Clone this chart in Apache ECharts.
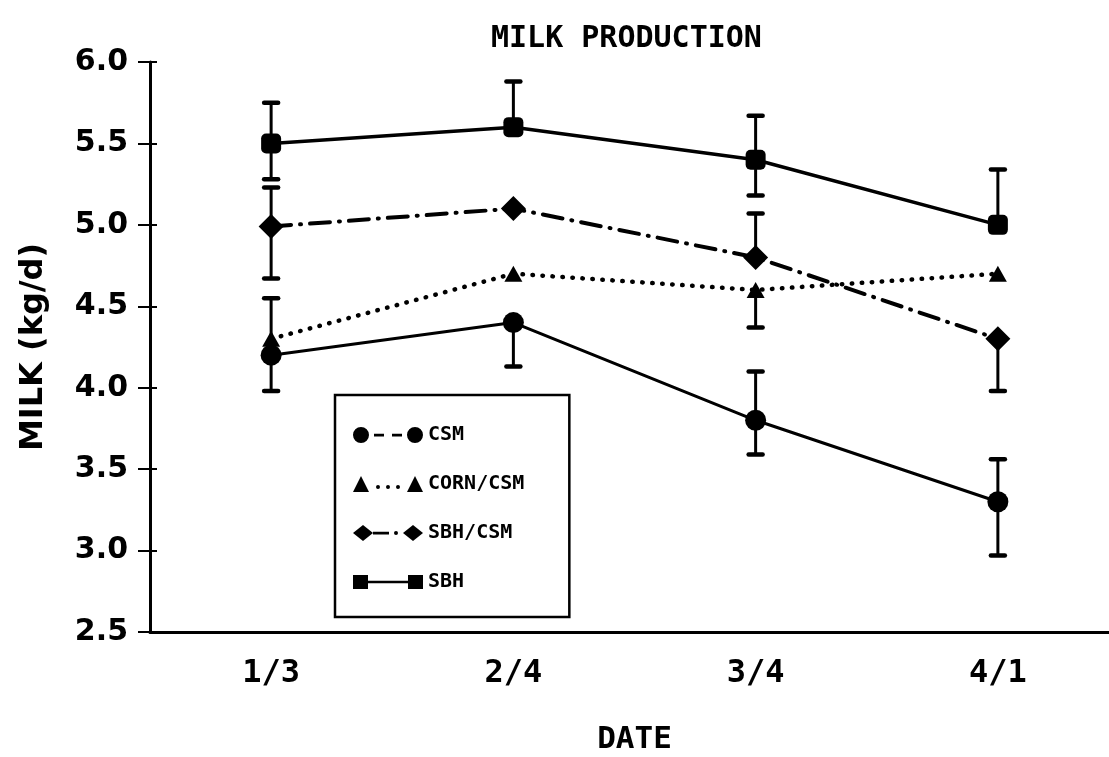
<!DOCTYPE html>
<html>
<head>
<meta charset="utf-8">
<script src="https://cdn.jsdelivr.net/npm/echarts@6/dist/echarts.min.js"></script>
<style>
html,body{margin:0;padding:0;background:#fff;}
#chart{width:1109px;height:757px;}
</style>
</head>
<body>
<div id="chart"></div>
<script>
// ---- data ----
const categories = ['1/3', '2/4', '3/4', '4/1'];
const yTicks = [2.5, 3.0, 3.5, 4.0, 4.5, 5.0, 5.5, 6.0];

const csm      = [4.2, 4.4, 3.8, 3.3];
const csmHigh  = [null, null, 4.10, 3.56];
const csmLow   = [3.98, 4.13, 3.59, 2.97];

const corn     = [4.3, 4.7, 4.6, 4.7];
const cornHigh = [4.55, null, null, null];
const cornLow  = [null, null, 4.37, null];

const sbhCsm     = [4.99, 5.1, 4.8, 4.3];
const sbhCsmHigh = [5.23, null, 5.07, null];
const sbhCsmLow  = [4.67, null, null, 3.98];

const sbh     = [5.5, 5.6, 5.4, 5.0];
const sbhHigh = [5.75, 5.88, 5.67, 5.34];
const sbhLow  = [5.28, null, 5.18, null];

// ---- legend icons (drawn in a 70 x 16 box) ----
function circ(cx, cy, r) {
  return 'M' + (cx - r) + ',' + cy + ' A' + r + ',' + r + ' 0 1,1 ' + (cx + r) + ',' + cy +
         ' A' + r + ',' + r + ' 0 1,1 ' + (cx - r) + ',' + cy + ' Z ';
}
function rect(x1, y1, x2, y2) {
  return 'M' + x1 + ',' + y1 + ' L' + x2 + ',' + y1 + ' L' + x2 + ',' + y2 + ' L' + x1 + ',' + y2 + ' Z ';
}
const iconCSM = 'path://' + circ(8, 8, 8) + circ(62, 8, 8) + rect(21, 6.8, 31, 9.4) + rect(39, 6.8, 49, 9.4);
const iconCORN = 'path://M0,16 L8,0 L16,16 Z M54,16 L62,0 L70,16 Z ' + circ(25, 11, 2) + circ(35, 11, 2) + circ(45, 11, 2);
const iconSBHCSM = 'path://M0,8 L10,0 L20,8 L10,16 Z M50,8 L60,0 L70,8 L60,16 Z ' + rect(20, 6.7, 36, 9.5) + circ(43, 8, 2);
const iconSBH = 'path://' + rect(0, 1, 15, 15) + rect(55, 1, 70, 15) + rect(15, 6.8, 55, 9.2);

const BLACK = '#000';
const MONO = 'DejaVu Sans Mono';

function errData(vals, lows, highs) {
  return categories.map(function (c, i) {
    return [i, vals[i], lows[i] == null ? NaN : lows[i], highs[i] == null ? NaN : highs[i]];
  });
}

function renderErr(params, api) {
  const x = api.value(0), y = api.value(1), lo = api.value(2), hi = api.value(3);
  const p = api.coord([x, y]);
  const cap = 7;
  const children = [];
  [hi, lo].forEach(function (v) {
    if (v == null || isNaN(v)) return;
    const q = api.coord([x, v]);
    children.push({ type: 'line', shape: { x1: p[0], y1: p[1], x2: q[0], y2: q[1] },
                    style: { stroke: BLACK, lineWidth: 3 } });
    children.push({ type: 'line', shape: { x1: q[0] - cap, y1: q[1], x2: q[0] + cap, y2: q[1] },
                    style: { stroke: BLACK, lineWidth: 4.5, lineCap: 'round' } });
  });
  return { type: 'group', children: children };
}

function errSeries(name, vals, lows, highs) {
  return {
    type: 'custom', name: name + ' err', z: 1, silent: true,
    renderItem: renderErr, data: errData(vals, lows, highs),
    encode: { x: 0, y: 1 }
  };
}

const chart = echarts.init(document.getElementById('chart'), null, { renderer: 'canvas' });

const option = {
  backgroundColor: '#fff',
  animation: false,
  title: {
    text: 'MILK PRODUCTION',
    left: 486, top: 19,
    textStyle: { fontFamily: MONO, fontWeight: 'bold', fontSize: 30, color: BLACK }
  },
  legend: {
    orient: 'vertical',
    left: 335, top: 395,
    padding: [30, 45, 25, 18],
    itemWidth: 70, itemHeight: 16, itemGap: 29,
    borderColor: BLACK, borderWidth: 2.5,
    selectedMode: false,
    textStyle: { fontFamily: MONO, fontWeight: 'bold', fontSize: 20, lineHeight: 16, color: BLACK },
    data: [
      { name: 'CSM', icon: iconCSM },
      { name: 'CORN/CSM', icon: iconCORN },
      { name: 'SBH/CSM', icon: iconSBHCSM },
      { name: 'SBH', icon: iconSBH }
    ]
  },
  grid: { left: 150, top: 62, width: 969, height: 570, outerBoundsMode: 'none', containLabel: false },
  xAxis: [{
    type: 'category',
    data: categories,
    boundaryGap: true,
    name: 'DATE',
    nameLocation: 'middle',
    nameGap: 92,
    nameMoveOverlap: false,
    nameTextStyle: { fontFamily: MONO, fontWeight: 'bold', fontSize: 31, color: BLACK },
    axisLine: { lineStyle: { color: BLACK, width: 3 } },
    axisTick: { alignWithLabel: true, length: 8, lineStyle: { color: BLACK, width: 2 } },
    axisLabel: { margin: 26, fontFamily: MONO, fontWeight: 'bold', fontSize: 32, color: BLACK },
    splitLine: { show: false }
  }, {
    type: 'category',
    data: categories,
    boundaryGap: true,
    position: 'bottom',
    axisLine: { show: false },
    axisTick: { alignWithLabel: true, inside: true, length: 10, lineStyle: { color: BLACK, width: 2 } },
    axisLabel: { show: false },
    splitLine: { show: false }
  }],
  yAxis: [{
    type: 'value',
    min: 2.5, max: 6.0, interval: 0.5,
    name: 'MILK (kg/d)',
    nameLocation: 'middle',
    nameGap: 100,
    nameMoveOverlap: false,
    nameRotate: 90,
    nameTextStyle: { fontFamily: 'DejaVu Sans', fontWeight: 'bold', fontSize: 32, color: BLACK },
    axisLine: { show: true, lineStyle: { color: BLACK, width: 3 } },
    axisTick: { show: true, length: 12, lineStyle: { color: BLACK, width: 2 } },
    axisLabel: {
      margin: 22, fontFamily: 'DejaVu Sans', fontWeight: 'bold', fontSize: 30, color: BLACK,
      formatter: function (v) { return yTicks.indexOf(v) >= 0 ? v.toFixed(1) : ''; }
    },
    splitLine: { show: false }
  }, {
    type: 'value',
    min: 2.5, max: 6.0, interval: 0.5,
    position: 'left',
    axisLine: { show: false },
    axisTick: { show: true, inside: true, length: 7, lineStyle: { color: BLACK, width: 2 } },
    axisLabel: { show: false },
    splitLine: { show: false }
  }],
  series: [
    errSeries('CSM', csm, csmLow, csmHigh),
    errSeries('CORN/CSM', corn, cornLow, cornHigh),
    errSeries('SBH/CSM', sbhCsm, sbhCsmLow, sbhCsmHigh),
    errSeries('SBH', sbh, sbhLow, sbhHigh),
    {
      name: 'CSM', type: 'line', data: csm, z: 3,
      symbol: 'circle', symbolSize: 21,
      lineStyle: { color: BLACK, width: 3 },
      itemStyle: { color: BLACK }
    },
    {
      name: 'CORN/CSM', type: 'line', data: corn, z: 3,
      symbol: 'triangle', symbolSize: [18, 16],
      lineStyle: { color: BLACK, width: 4.5, type: [0.5, 9.5], cap: 'round' },
      itemStyle: { color: BLACK }
    },
    {
      name: 'SBH/CSM', type: 'line', data: sbhCsm, z: 3,
      symbol: 'diamond', symbolSize: [25, 25],
      lineStyle: { color: BLACK, width: 4, type: [20, 9, 1, 9], cap: 'round' },
      itemStyle: { color: BLACK }
    },
    {
      name: 'SBH', type: 'line', data: sbh, z: 3,
      symbol: 'roundRect', symbolSize: 20,
      lineStyle: { color: BLACK, width: 3.5 },
      itemStyle: { color: BLACK }
    }
  ]
};

chart.setOption(option);
</script>
</body>
</html>
